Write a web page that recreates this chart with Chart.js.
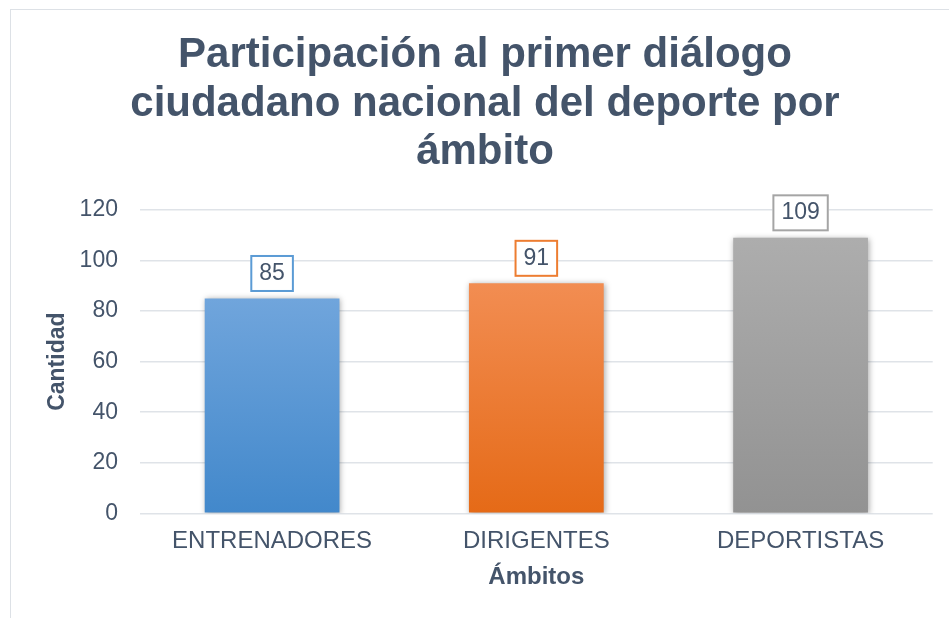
<!DOCTYPE html>
<html>
<head>
<meta charset="utf-8">
<script src="https://cdn.jsdelivr.net/npm/chart.js@4.4.1/dist/chart.umd.min.js"></script>
<style>
    html, body { margin: 0; padding: 0; background: #ffffff; }
    #wrap { position: relative; width: 949px; height: 618px; overflow: hidden; }
    #frame {
        position: absolute; left: 10px; top: 9px; right: -5px; bottom: -5px;
        border-left: 1px solid #dde1e6; border-top: 1px solid #dde1e6;
        pointer-events: none;
    }
</style>
</head>
<body>
<div id="wrap">
    <canvas id="chart" width="949" height="618"></canvas>
    <div id="frame"></div>
</div>
<script>
(function() {
    'use strict';

    // Chart data
    var categories = ['ENTRENADORES', 'DIRIGENTES', 'DEPORTISTAS'];
    var values = [85, 91, 109];
    var yTickValues = [0, 20, 40, 60, 80, 100, 120];

    // Bar colours (gradient top / bottom) and label box borders
    var topColors = ['#70a5dc', '#f28d52', '#adadad'];
    var bottomColors = ['#4288cb', '#e56a17', '#929292'];
    var labelBorders = ['#5b9bd5', '#ed7d31', '#a5a5a5'];

    var fontFamily = "'Liberation Sans', Arial, sans-serif";
    var textColor = '#44546a';
    var gridColor = '#dfe3e8';
    var noColor = 'rgba(0, 0, 0, 0)';

    // Gradient fill per bar, from its top to the baseline
    function barFill(context) {
        var chart = context.chart;
        var i = context.dataIndex;
        if (!chart.chartArea || context.type !== 'data' || !chart.scales.y) {
            return topColors[i];
        }
        var y = chart.scales.y;
        var top = y.getPixelForValue(values[i]);
        var bottom = y.getPixelForValue(0);
        var g = chart.ctx.createLinearGradient(0, top, 0, bottom);
        g.addColorStop(0, topColors[i]);
        g.addColorStop(1, bottomColors[i]);
        return g;
    }

    // Soft shadow under bars, then the boxed value labels
    var barDecor = {
        id: 'barDecor',
        beforeDatasetsDraw: function(chart) {
            var c = chart.ctx;
            c.save();
            c.shadowColor = 'rgba(0, 0, 0, 0.35)';
            c.shadowBlur = 6;
            c.shadowOffsetX = 1;
            c.shadowOffsetY = 1;
        },
        afterDatasetsDraw: function(chart) {
            var c = chart.ctx;
            c.restore();

            var meta = chart.getDatasetMeta(0);
            c.save();
            c.font = '23px ' + fontFamily;
            c.textAlign = 'center';
            c.textBaseline = 'middle';
            meta.data.forEach(function(bar, i) {
                var text = String(values[i]);
                var w = c.measureText(text).width + 18;
                var h = 37;
                var bottom = bar.y - 6.5;
                var left = bar.x - w / 2;
                c.fillStyle = '#ffffff';
                c.fillRect(left, bottom - h, w, h);
                c.lineWidth = 2;
                c.strokeStyle = labelBorders[i];
                c.strokeRect(left + 1, bottom - h + 1, w - 2, h - 2);
                c.fillStyle = textColor;
                c.fillText(text, bar.x, bottom - h / 2);
            });
            c.restore();
        }
    };

    new Chart(document.getElementById('chart'), {
        type: 'bar',
        data: {
            labels: categories,
            datasets: [{
                data: values,
                backgroundColor: barFill,
                borderWidth: 0,
                barPercentage: 0.51,
                categoryPercentage: 1
            }]
        },
        options: {
            responsive: false,
            animation: false,
            events: [],
            layout: {
                padding: { left: 37.3, right: 16.3, top: 0, bottom: 25.9 }
            },
            plugins: {
                legend: { display: false },
                tooltip: { enabled: false },
                title: {
                    display: true,
                    text: ['Participación al primer diálogo', 'ciudadano nacional del deporte por', 'ámbito'],
                    color: textColor,
                    font: { family: fontFamily, size: 42, weight: 'bold', lineHeight: 1.155 },
                    padding: { top: 31.2, bottom: 33.3 }
                }
            },
            scales: {
                x: {
                    grid: { display: true, drawOnChartArea: false, drawTicks: true, tickLength: 10, tickColor: noColor, color: noColor },
                    border: { display: false },
                    ticks: {
                        color: textColor,
                        padding: 4,
                        font: { family: fontFamily, size: 24 }
                    },
                    title: {
                        display: true,
                        text: 'Ámbitos',
                        color: textColor,
                        font: { family: fontFamily, size: 24, weight: 'bold' },
                        padding: { top: 3.2, bottom: 0 }
                    }
                },
                y: {
                    min: yTickValues[0],
                    max: yTickValues[yTickValues.length - 1],
                    afterBuildTicks: function(scale) {
                        scale.ticks = yTickValues.map(function(v) { return { value: v }; });
                    },
                    grid: { color: gridColor, lineWidth: 1.5, drawTicks: true, tickLength: 18, tickColor: noColor },
                    border: { display: false },
                    ticks: {
                        color: textColor,
                        padding: 4,
                        font: { family: fontFamily, size: 23 }
                    },
                    title: {
                        display: true,
                        text: 'Cantidad',
                        color: textColor,
                        font: { family: fontFamily, size: 23, weight: 'bold' },
                        padding: { top: 6.9, bottom: 3.8 }
                    }
                }
            }
        },
        plugins: [barDecor]
    });
})();
</script>
</body>
</html>
